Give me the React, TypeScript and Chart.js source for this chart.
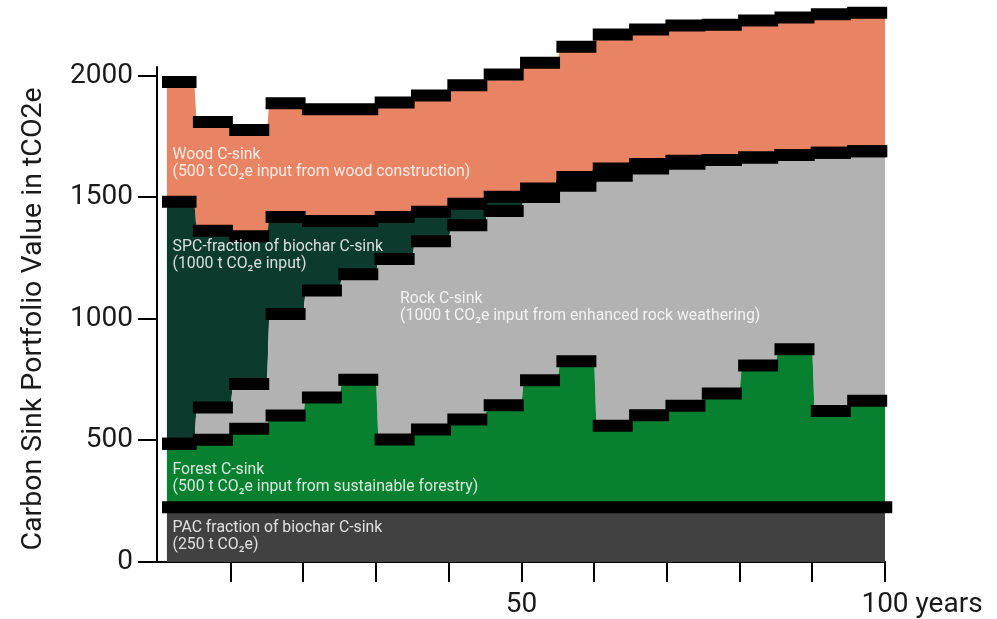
import React, { useEffect, useRef } from "react";
import { Chart, registerables } from "chart.js";

Chart.register(...registerables);

// ---- data (5-year steps, end year of each step) ----
const stepEnds = [5, 10, 15, 20, 25, 30, 35, 40, 45, 50, 55, 60, 65, 70, 75, 80, 85, 90, 95, 100];
const pacValues = [225, 225, 225, 225, 225, 225, 225, 225, 225, 225, 225, 225, 225, 225, 225, 225, 225, 225, 225, 225];
const forestValues = [262, 278, 323, 378, 452, 525, 279, 320, 361, 420, 523, 601, 336, 379, 418, 468, 583, 650, 396, 438];
const rockValues = [0, 133, 184, 417, 440, 434, 743, 775, 800, 799, 754, 722, 1028, 1015, 996, 961, 856, 800, 1063, 1027];
const spcValues = [995, 727, 608, 400, 286, 219, 173, 121, 88, 59, 35, 36, 30, 19, 12, 0, 0, 0, 0, 0];
const woodValues = [493, 447, 437, 468, 460, 460, 471, 478, 488, 503, 517, 536, 551, 553, 556, 557, 564, 565, 570, 570];

const yTicks = [0, 500, 1000, 1500, 2000];
const xTickLabels: Record<number, string> = { 50: "50", 100: "100" };
const xUnit = "years";
const yTitle = "Carbon Sink Portfolio Value in tCO2e";

const layers = [
  { name: "PAC", values: pacValues, color: "#414141", label: ["PAC fraction of biochar C-sink", "(250 t CO\u2082e)"], lx: 2, ly: 125 },
  { name: "Forest", values: forestValues, color: "#07812f", label: ["Forest C-sink", "(500 t CO\u2082e input from sustainable forestry)"], lx: 2, ly: 363 },
  { name: "Rock", values: rockValues, color: "#b2b2b2", label: ["Rock C-sink", "(1000 t CO\u2082e input from enhanced rock weathering)"], lx: 33.3, ly: 1067 },
  { name: "SPC", values: spcValues, color: "#0c3a2d", label: ["SPC-fraction of biochar C-sink", "(1000 t CO\u2082e input)"], lx: 2, ly: 1280 },
  { name: "Wood", values: woodValues, color: "#e88463", label: ["Wood C-sink", "(500 t CO\u2082e input from wood construction)"], lx: 2, ly: 1658 },
];

const FONT = "Roboto";

export default function App() {
  const ref = useRef<HTMLCanvasElement | null>(null);

  useEffect(() => {
    const canvas = ref.current;
    if (!canvas) return;

    // cumulative boundaries
    const cum: number[][] = [];
    layers.forEach((l, li) => {
      cum.push(l.values.map((v, i) => v + (li > 0 ? cum[li - 1][i] : 0)));
    });

    const fillDatasets = layers.map((l, li) => {
      const data: { x: number; y: number }[] = [];
      stepEnds.forEach((end, i) => {
        const start = i === 0 ? 1.2 : stepEnds[i - 1] + 0.3;
        data.push({ x: start, y: cum[li][i] });
        data.push({ x: end, y: cum[li][i] });
      });
      return {
        label: l.name,
        data,
        backgroundColor: l.color,
        borderColor: "rgba(0,0,0,0)",
        borderWidth: 0,
        pointRadius: 0,
        fill: li === 0 ? "origin" : "-1",
        tension: 0,
        order: 2,
        clip: false as const,
      };
    });

    const barDatasets = layers.map((l, li) => {
      const data: { x: number; y: number | null }[] = [];
      if (li === 0) {
        data.push({ x: 0.55, y: cum[0][0] });
        data.push({ x: 101, y: cum[0][stepEnds.length - 1] });
      } else {
        stepEnds.forEach((end, i) => {
          const start = i === 0 ? 0.55 : stepEnds[i - 1] - 0.2;
          data.push({ x: start, y: cum[li][i] });
          data.push({ x: end + 0.3, y: cum[li][i] });
          data.push({ x: end + 0.3, y: null });
        });
      }
      return {
        label: l.name + " bars",
        data,
        borderColor: "#000",
        borderWidth: 12,
        borderCapStyle: "butt" as const,
        pointRadius: 0,
        fill: false,
        spanGaps: false,
        tension: 0,
        order: 1,
        clip: false as const,
      };
    });

    const overlay = {
      id: "overlay",
      afterDatasetsDraw(chart: any) {
        const { ctx, scales } = chart;
        const x = scales.x;
        const y = scales.y;
        ctx.save();
        // y axis line (0 .. 2040)
        ctx.strokeStyle = "#000";
        ctx.lineWidth = 2;
        ctx.beginPath();
        const ax = x.getPixelForValue(0) - 1;
        ctx.moveTo(ax, y.getPixelForValue(0) + 1);
        ctx.lineTo(ax, y.getPixelForValue(2040));
        ctx.stroke();

        // layer labels
        ctx.font = `15.8px ${FONT}`;
        ctx.fillStyle = "rgba(255,255,255,0.84)";
        ctx.textAlign = "left";
        ctx.textBaseline = "alphabetic";
        layers.forEach((l) => {
          const px = x.getPixelForValue(l.lx);
          const py = y.getPixelForValue(l.ly);
          l.label.forEach((t, k) => ctx.fillText(t, px, py + k * 17));
        });

        // x tick labels
        ctx.font = `28px ${FONT}`;
        ctx.fillStyle = "#1a1a1a";
        const base = chart.chartArea.bottom + 50;
        Object.keys(xTickLabels).forEach((k) => {
          const v = Number(k);
          const t = xTickLabels[v];
          const px = x.getPixelForValue(v);
          ctx.textAlign = "center";
          ctx.fillText(t, px, base);
          if (v === 100) {
            const w = ctx.measureText(t).width;
            ctx.textAlign = "left";
            ctx.fillText(" " + xUnit, px + w / 2, base);
          }
        });

        // y title
        ctx.translate(41, y.getPixelForValue(1000));
        ctx.rotate(-Math.PI / 2);
        ctx.font = `28.5px ${FONT}`;
        ctx.textAlign = "center";
        ctx.textBaseline = "alphabetic";
        ctx.fillText(yTitle, 0, 0);
        ctx.restore();
      },
    };

    const chart = new Chart(canvas, {
      type: "line",
      data: { datasets: [...barDatasets, ...fillDatasets] as any },
      options: {
        animation: false,
        responsive: false,
        events: [],
        layout: { padding: { top: 3, right: 112, left: 0, bottom: 0 } },
        plugins: { legend: { display: false }, tooltip: { enabled: false } },
        scales: {
          x: {
            type: "linear",
            min: 0,
            max: 100,
            afterFit: (s: any) => {
              s.height = 57;
              s.paddingLeft = 0;
              s.paddingRight = 0;
            },
            ticks: { stepSize: 10, display: false },
            grid: {
              drawOnChartArea: false,
              drawTicks: true,
              tickLength: 20,
              lineWidth: 2,
              color: (c: any) => (c.tick && c.tick.value === 0 ? "rgba(0,0,0,0)" : "#000"),
            },
            border: { display: true, color: "#000", width: 2 },
          },
          y: {
            type: "linear",
            min: 0,
            max: 2300,
            afterFit: (s: any) => {
              s.width = 158;
              s.paddingTop = 0;
              s.paddingBottom = 0;
            },
            afterBuildTicks: (s: any) => {
              s.ticks = yTicks.map((v) => ({ value: v }));
            },
            ticks: {
              padding: 5,
              color: "#1a1a1a",
              font: { family: FONT, size: 28 },
              callback: (v: any) => String(v),
            },
            grid: {
              drawOnChartArea: false,
              drawTicks: true,
              tickLength: 20,
              lineWidth: 2,
              color: "#000",
            },
            border: { display: false },
          },
        },
      },
      plugins: [overlay],
    });

    return () => chart.destroy();
  }, []);

  return (
    <div style={{ position: "fixed", left: 0, top: 0, width: 997, height: 619, background: "#fff" }}>
      <canvas ref={ref} width={997} height={619} style={{ width: 997, height: 619, display: "block" }} />
    </div>
  );
}
